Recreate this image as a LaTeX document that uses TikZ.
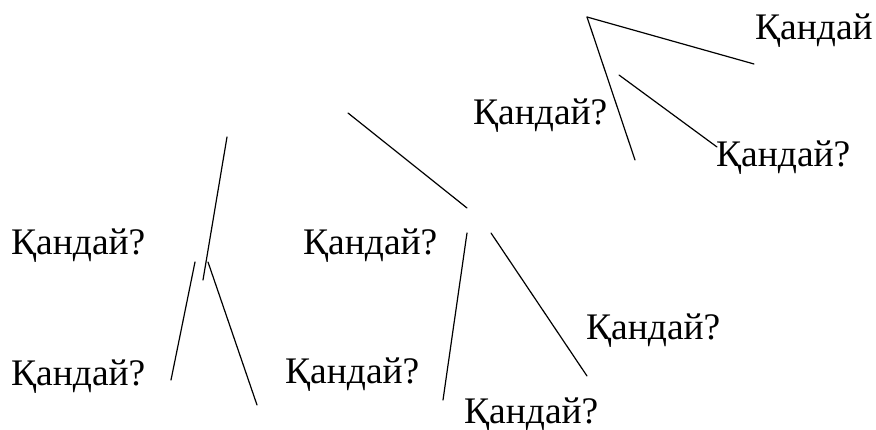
\documentclass[tikz,border=0pt]{standalone}
\usepackage{fontspec}
\setmainfont{Liberation Serif}
\begin{document}
\begin{tikzpicture}[
    x=1pt, y=-1pt,
    every node/.style={font=\fontsize{37.5}{45}\selectfont},
    label/.style={
        anchor=base west,
        inner sep=0pt
    },
    branch/.style={line width=1.2pt, line cap=round}
]
    \useasboundingbox (0,0) rectangle (876,430);

    % Top fan
    \coordinate (topa) at (587,17);
    \coordinate (topb) at (754,64);
    \coordinate (topc) at (635,160);
    \coordinate (topd) at (619,75);
    \coordinate (tope) at (717,147);

    % Left fan
    \coordinate (lefta) at (227,137);
    \coordinate (leftb) at (203,280);
    \coordinate (leftc) at (195,262);
    \coordinate (leftd) at (171,380);
    \coordinate (lefte) at (208,262);
    \coordinate (leftf) at (257,405);

    % Middle fan
    \coordinate (mida) at (348,113);
    \coordinate (midb) at (467,208);
    \coordinate (midc) at (467,233);
    \coordinate (midd) at (443,400);
    \coordinate (mide) at (491,233);
    \coordinate (midf) at (587,376);

    % Labels
    \node[label] (qtop) at (755,40) {Қандай};
    \node[label] (qtopleft) at (473,125) {Қандай?};
    \node[label] (qtopright) at (716,167) {Қандай?};
    \node[label] (qleftup) at (11,255) {Қандай?};
    \node[label] (qleftdown) at (11,385) {Қандай?};
    \node[label] (qmidup) at (303,255) {Қандай?};
    \node[label] (qmiddown) at (285,384) {Қандай?};
    \node[label] (qmidbottom) at (464,423) {Қандай?};
    \node[label] (qmidright) at (586,340) {Қандай?};

    % Lines
    \draw[branch] (topa) -- (topb);
    \draw[branch] (topa) -- (topc);
    \draw[branch] (topd) -- (tope);
    \draw[branch] (lefta) -- (leftb);
    \draw[branch] (leftc) -- (leftd);
    \draw[branch] (lefte) -- (leftf);
    \draw[branch] (mida) -- (midb);
    \draw[branch] (midc) -- (midd);
    \draw[branch] (mide) -- (midf);

\end{tikzpicture}
\end{document}
